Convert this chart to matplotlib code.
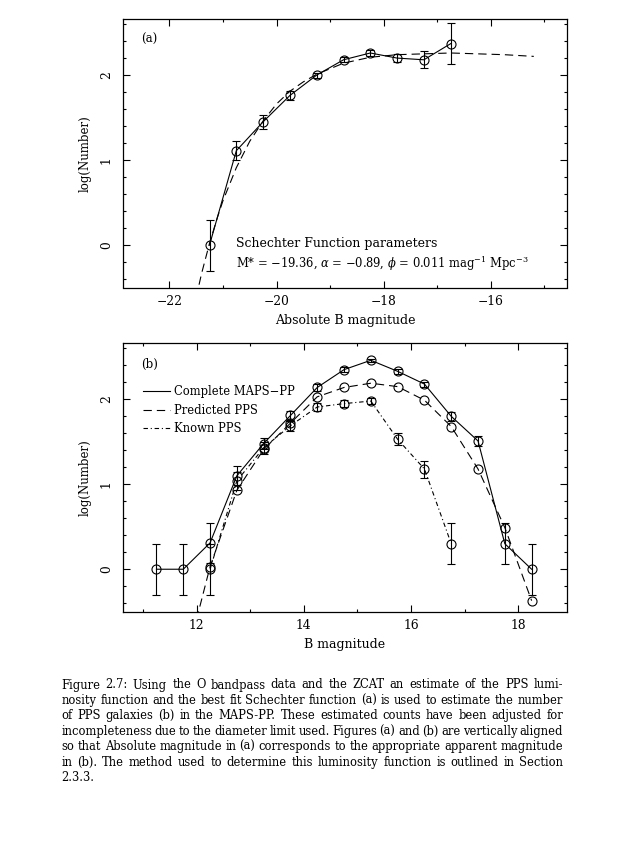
import numpy as np
import matplotlib
matplotlib.use("Agg")
import matplotlib.pyplot as plt
from matplotlib.lines import Line2D
from matplotlib.ticker import MultipleLocator

plt.rcParams['font.family'] = ['DejaVu Serif']
plt.rcParams['mathtext.fontset'] = 'dejavuserif'

# ---- panel (a): luminosity function ----
abs_mag = [-21.25, -20.75, -20.25, -19.75, -19.25, -18.75, -18.25, -17.75, -17.25, -16.75]
lf_log = [0.00, 1.11, 1.45, 1.76, 2.00, 2.18, 2.26, 2.20, 2.18, 2.37]
lf_err = [0.30, 0.11, 0.08, 0.05, 0.03, 0.03, 0.03, 0.05, 0.10, 0.24]

# best fit Schechter curve
fit_mag = [-21.5, -21.4, -21.25, -21.1, -21.0, -20.75, -20.5, -20.25, -20.0, -19.75,
           -19.5, -19.25, -18.75, -18.25, -17.75, -17.25, -16.75, -16.25, -15.75, -15.2]
fit_log = [-0.62, -0.34, 0.02, 0.33, 0.52, 0.91, 1.22, 1.46, 1.66, 1.81,
           1.92, 2.01, 2.14, 2.21, 2.24, 2.25, 2.26, 2.25, 2.24, 2.22]

# ---- panel (b): counts vs apparent magnitude ----
b_mag = [11.25, 11.75, 12.25, 12.75, 13.25, 13.75, 14.25, 14.75, 15.25, 15.75,
         16.25, 16.75, 17.25, 17.75, 18.25]
complete_log = [0.00, 0.00, 0.31, 1.10, 1.48, 1.81, 2.14, 2.35, 2.46, 2.33,
                2.18, 1.80, 1.51, 0.30, 0.00]
complete_err = [0.30, 0.30, 0.24, 0.11, 0.07, 0.05, 0.04, 0.03, 0.02, 0.03,
                0.03, 0.05, 0.06, 0.24, 0.30]

pred_mag = [11.75, 12.25, 12.75, 13.25, 13.75, 14.25, 14.75, 15.25, 15.75, 16.25,
            16.75, 17.25, 17.75, 18.25]
pred_log = [-1.20, 0.03, 0.93, 1.41, 1.72, 2.03, 2.14, 2.19, 2.15, 1.99,
            1.68, 1.18, 0.49, -0.37]

known_mag = [12.25, 12.75, 13.25, 13.75, 14.25, 14.75, 15.25, 15.75, 16.25, 16.75]
known_log = [0.00, 1.04, 1.43, 1.69, 1.91, 1.95, 1.98, 1.53, 1.18, 0.30]
known_err = [0.30, 0.11, 0.07, 0.06, 0.05, 0.04, 0.04, 0.07, 0.10, 0.24]

caption_lines = [
    "Figure 2.7: Using the O bandpass data and the ZCAT an estimate of the PPS lumi-",
    "nosity function and the best fit Schechter function (a) is used to estimate the number",
    "of PPS galaxies (b) in the MAPS-PP. These estimated counts have been adjusted for",
    "incompleteness due to the diameter limit used. Figures (a) and (b) are vertically aligned",
    "so that Absolute magnitude in (a) corresponds to the appropriate apparent magnitude",
    "in (b).  The method used to determine this luminosity function is outlined in Section",
    "2.3.3.",
]

W, H = 631, 856
fig = plt.figure(figsize=(W / 100, H / 100), dpi=100)
ax1 = fig.add_axes([122.7 / W, 1 - 287.5 / H, 444.3 / W, 268.5 / H])
ax2 = fig.add_axes([122.7 / W, 1 - 611.7 / H, 444.3 / W, 268.4 / H])

lw = 0.8
dash = (0, (7.5, 4.5))
dashdot = (0, (4, 2.5, 1, 2.5))
mk = dict(marker='o', ms=6.5, mfc='none', mec='black', mew=0.8)
eb = dict(elinewidth=0.8, capsize=3.2, capthick=0.8, ecolor='black')


def style(ax, xlim, xlabel):
    ax.set_xlim(*xlim)
    ax.set_ylim(-0.5, 2.66)
    ax.xaxis.set_major_locator(MultipleLocator(2))
    ax.xaxis.set_minor_locator(MultipleLocator(1))
    ax.yaxis.set_major_locator(MultipleLocator(1))
    ax.yaxis.set_minor_locator(MultipleLocator(0.2))
    ax.tick_params(which='both', direction='in', top=True, right=True, width=0.8,
                   labelsize=8.8)
    ax.tick_params(which='major', length=5)
    ax.tick_params(which='minor', length=2.5)
    ax.tick_params(axis='x', pad=5.5)
    ax.tick_params(axis='y', pad=7)
    for lbl in ax.get_yticklabels():
        lbl.set_rotation(90)
        lbl.set_va('center')
    for s in ax.spines.values():
        s.set_linewidth(0.9)
    ax.set_xlabel(xlabel, fontsize=9, labelpad=4)
    ax.set_ylabel('log(Number)', fontsize=8.5, labelpad=6)


# panel (a)
ax1.plot(fit_mag, fit_log, color='black', lw=lw, linestyle=dash)
ax1.errorbar(abs_mag, lf_log, yerr=lf_err, color='black', lw=lw, **mk, **eb)
style(ax1, (-22.87, -14.58), 'Absolute B magnitude')
ax1.text(0.041, 0.925, '(a)', transform=ax1.transAxes, fontsize=8.5, va='center')
ax1.text(-20.76, 0.02, 'Schechter Function parameters', fontsize=9, va='center')
ax1.text(-20.76, -0.22,
         r'M* = $-$19.36, $\alpha$ = $-$0.89, $\phi$ = 0.011 mag$^{-1}$ Mpc$^{-3}$',
         fontsize=8.3, va='center')

# panel (b)
ax2.errorbar(b_mag, complete_log, yerr=complete_err, color='black', lw=lw, **mk, **eb)
ax2.plot(pred_mag, pred_log, color='black', lw=lw, linestyle=dash, **mk)
ax2.errorbar(known_mag, known_log, yerr=known_err, color='black', lw=lw,
             linestyle=dashdot, **mk, **eb)
style(ax2, (10.62, 18.91), 'B magnitude')
ax2.text(0.041, 0.92, '(b)', transform=ax2.transAxes, fontsize=8.5, va='center')
handles = [Line2D([], [], color='black', lw=lw),
           Line2D([], [], color='black', lw=lw, linestyle=dash),
           Line2D([], [], color='black', lw=lw, linestyle=dashdot)]
ax2.legend(handles, ['Complete MAPS\u2212PP', 'Predicted PPS', 'Known PPS'],
           loc='upper left', bbox_to_anchor=(0.045, 0.845), frameon=False,
           fontsize=8.3, handlelength=2.35, handletextpad=0.4, labelspacing=0.5,
           borderpad=0, borderaxespad=0)

# justified caption
renderer = fig.canvas.get_renderer()
x0, x1 = 61.5 / W, 563 / W
for i, line in enumerate(caption_lines):
    y = 1 - (685 + i * 15.45) / H
    words = line.split()
    texts = [fig.text(0, y, w, fontsize=8.3, va='center') for w in words]
    widths = [t.get_window_extent(renderer).width / W for t in texts]
    if i < len(caption_lines) - 1:
        gap = max((x1 - x0 - sum(widths)) / (len(words) - 1), 1.5 / W)
    else:
        gap = 3.5 / W
    x = x0
    for t, w in zip(texts, widths):
        t.set_x(x)
        x += w + gap

fig.savefig('out.png', dpi=100)
